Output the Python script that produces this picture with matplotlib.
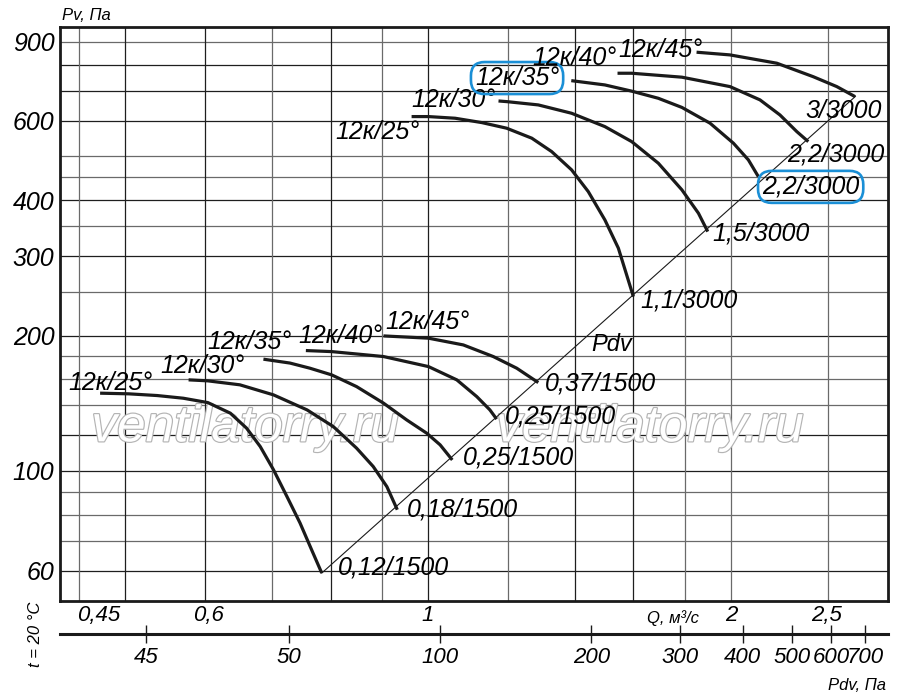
"""Fan performance chart: Pv vs Q for 12k impellers at 1500 and 3000 rpm."""

import matplotlib

matplotlib.use("Agg")
import matplotlib.pyplot as plt
import matplotlib.patheffects as pe
from matplotlib.ticker import FixedLocator, NullLocator

plt.rcParams["font.family"] = ["Liberation Sans", "DejaVu Sans"]
plt.rcParams["font.style"] = "italic"

# --------------------------------------------------------------------------- #
# Data (Q in m3/s, Pv in Pa)
# --------------------------------------------------------------------------- #
angles = ["12к/25°", "12к/30°", "12к/35°", "12к/40°", "12к/45°"]

# 1500 rpm group
low_q = [
    [0.472, 0.504, 0.538, 0.571, 0.604, 0.636, 0.660, 0.681, 0.702, 0.724, 0.746, 0.766, 0.784],
    [0.578, 0.604, 0.650, 0.702, 0.758, 0.805, 0.849, 0.882, 0.910, 0.932],
    [0.686, 0.729, 0.763, 0.802, 0.849, 0.903, 0.952, 0.997, 1.028, 1.057],
    [0.756, 0.802, 0.903, 1.001, 1.068, 1.118, 1.152, 1.170],
    [0.903, 1.001, 1.084, 1.161, 1.225, 1.287],
]
low_pv = [
    [148.9, 148.4, 147.1, 145.1, 141.9, 134.4, 124.5, 113.3, 100.6, 87.7, 76.6, 66.8, 59.3],
    [159.4, 158.6, 155.4, 147.6, 136.7, 125.5, 112.4, 102.3, 92.3, 82.0],
    [177.2, 173.7, 169.2, 163.5, 154.0, 141.5, 129.9, 121.3, 114.3, 105.8],
    [185.2, 184.2, 179.6, 170.6, 159.4, 146.3, 136.7, 130.4],
    [199.6, 197.3, 190.6, 179.6, 169.2, 157.2],
]
low_motor = ["0,12/1500", "0,18/1500", "0,25/1500", "0,25/1500", "0,37/1500"]

# 3000 rpm group
high_q = [
    [0.963, 1.001, 1.064, 1.131, 1.197, 1.268, 1.327, 1.389, 1.443, 1.499, 1.546, 1.600],
    [1.175, 1.198, 1.287, 1.389, 1.499, 1.594, 1.694, 1.788, 1.857, 1.897],
    [1.388, 1.499, 1.594, 1.694, 1.788, 1.907, 2.012, 2.082, 2.130],
    [1.543, 1.594, 1.788, 1.996, 2.138, 2.238, 2.326, 2.388],
    [1.849, 1.996, 2.222, 2.415, 2.549, 2.658],
]
high_pv = [
    [613.3, 613.3, 608.1, 594.7, 577.9, 549.1, 512.7, 466.9, 417.8, 361.4, 312.7, 244.1],
    [664.3, 662.0, 651.0, 623.8, 582.6, 539.5, 483.1, 421.5, 374.0, 340.4],
    [737.1, 721.1, 698.5, 673.5, 642.7, 592.9, 535.1, 491.3, 451.0],
    [765.6, 765.6, 750.3, 715.0, 668.0, 618.4, 567.9, 539.5],
    [852.6, 840.9, 805.9, 752.2, 715.0, 679.2],
]
high_motor = ["1,1/3000", "1,5/3000", "2,2/3000", "2,2/3000", "3/3000"]

# dynamic pressure line through the curve ends
pdv_line_q = [0.784, 2.66]
pdv_line_pv = [59.3, 680]

# axes scales
y_ticks = [60, 100, 200, 300, 400, 600, 900]
y_grid_dark = [60, 100, 120, 200, 300, 400, 600, 700, 800]
y_grid_grey = [70, 80, 90, 140, 160, 180, 250, 350, 450, 500, 900]
x_grid_dark = [0.5, 0.6, 0.8, 1.0, 1.4, 1.6]
x_grid_grey = [0.45, 0.7, 0.9, 1.2, 1.8, 2.0, 2.5]
q_label_pos = [0.47, 0.605, 1.0, 2.0, 2.49]
q_labels = ["0,45", "0,6", "1", "2", "2,5"]
pdv_tick_pos = [26, 50, 100, 200, 300, 400, 500, 600, 700]
pdv_labels = ["45", "50", "100", "200", "300", "400", "500", "600", "700"]

# label anchors (Q, Pv)
low_angle_xy = [(0.483, 157.0), (0.596, 171.3), (0.665, 193.6), (0.818, 199.6), (0.998, 214.5)]
low_motor_xy = [(0.814, 60.9), (0.953, 82.0), (1.083, 106.9), (1.193, 131.9), (1.307, 156.2)]
high_angle_xy = [(0.890, 567), (1.061, 668), (1.226, 747), (1.397, 828), (1.701, 863)]
high_motor_xy = [(1.624, 238.8), (1.916, 336.4), (2.148, 428), (2.275, 504), (2.371, 631)]
highlighted = {("high_angle", 2), ("high_motor", 2)}

# --------------------------------------------------------------------------- #
W, H = 900, 699
fig = plt.figure(figsize=(W / 100, H / 100), dpi=100)
ax = fig.add_axes([60 / W, 1 - 601 / H, 828 / W, 574 / H])
ax.set_xscale("log")
ax.set_yscale("log")
ax.set_xlim(0.4306, 2.866)
ax.set_ylim(51.4, 970)

for v in y_grid_dark:
    ax.axhline(v, color="#1e1e1e", lw=0.9, zorder=1)
for v in y_grid_grey:
    ax.axhline(v, color="#6a6a6a", lw=0.9, zorder=1)
for v in x_grid_dark:
    ax.axvline(v, color="#1e1e1e", lw=0.9, zorder=1)
for v in x_grid_grey:
    ax.axvline(v, color="#6a6a6a", lw=0.9, zorder=1)

ax.yaxis.set_major_locator(FixedLocator(y_ticks))
ax.yaxis.set_minor_locator(NullLocator())
ax.set_yticklabels([str(v) for v in y_ticks], fontsize=18)
ax.xaxis.set_major_locator(FixedLocator(q_label_pos))
ax.xaxis.set_minor_locator(NullLocator())
ax.set_xticklabels(q_labels, fontsize=16)
ax.tick_params(axis="both", length=0)
ax.tick_params(axis="y", pad=4)
ax.tick_params(axis="x", pad=3)
for s in ax.spines.values():
    s.set_linewidth(2.0)
    s.set_color("#1a1a1a")

# watermark: white letters with a thin grey outline
for wq in (0.658, 1.662):
    ax.text(wq, 124.7, "ventilatorry.ru", fontsize=37, ha="center", va="center",
            color="white", zorder=2,
            path_effects=[pe.withStroke(linewidth=1.7, foreground="#b4b4b4")])

ax.plot(pdv_line_q, pdv_line_pv, color="#1a1a1a", lw=0.8, zorder=3)
for qs, ps in zip(low_q + high_q, low_pv + high_pv):
    ax.plot(qs, ps, color="#1a1a1a", lw=2.3, solid_capstyle="butt",
            solid_joinstyle="round", zorder=4)

box = dict(boxstyle="round,pad=0.16,rounding_size=0.55", fc="none", ec="#1a8fd6", lw=1.9)
for i in range(5):
    ax.text(*low_angle_xy[i], angles[i], fontsize=18, ha="center", va="center", zorder=5)
    ax.text(*low_motor_xy[i], low_motor[i], fontsize=18, ha="left", va="center", zorder=5)
    ax.text(*high_angle_xy[i], angles[i], fontsize=18, ha="center", va="center", zorder=5,
            bbox=box if ("high_angle", i) in highlighted else None)
    ax.text(*high_motor_xy[i], high_motor[i], fontsize=18, ha="left", va="center", zorder=5,
            bbox=box if ("high_motor", i) in highlighted else None)
ax.text(1.524, 190.6, "Pdv", fontsize=17, ha="center", va="center", zorder=5)

# secondary Pdv scale below the chart
k = 94.66
pax = fig.add_axes([60 / W, 1 - 634 / H, 828 / W, 0.0001])
pax.set_xscale("log")
pax.set_xlim(k * 0.4306 ** 2, k * 2.866 ** 2)
pax.set_yticks([])
for side in ("top", "left", "right"):
    pax.spines[side].set_visible(False)
pax.spines["bottom"].set_linewidth(2.2)
pax.spines["bottom"].set_color("#1a1a1a")
pax.patch.set_visible(False)
pax.xaxis.set_major_locator(FixedLocator(pdv_tick_pos))
pax.xaxis.set_minor_locator(NullLocator())
pax.set_xticklabels(pdv_labels, fontsize=16)
pax.tick_params(axis="x", direction="inout", length=13, width=1.0, pad=3, color="#1a1a1a")

fig.text(62 / W, 1 - 16 / H, "Pv, Па", fontsize=12, ha="left", va="center")
fig.text(673 / W, 1 - 618 / H, "Q, м³/с", fontsize=12, ha="center", va="center")
fig.text(857 / W, 1 - 686 / H, "Pdv, Па", fontsize=12, ha="center", va="center")
fig.text(35 / W, 1 - 634 / H, "t = 20 °C", fontsize=12, ha="center", va="center", rotation=90)

fig.savefig("out.png", dpi=100)
